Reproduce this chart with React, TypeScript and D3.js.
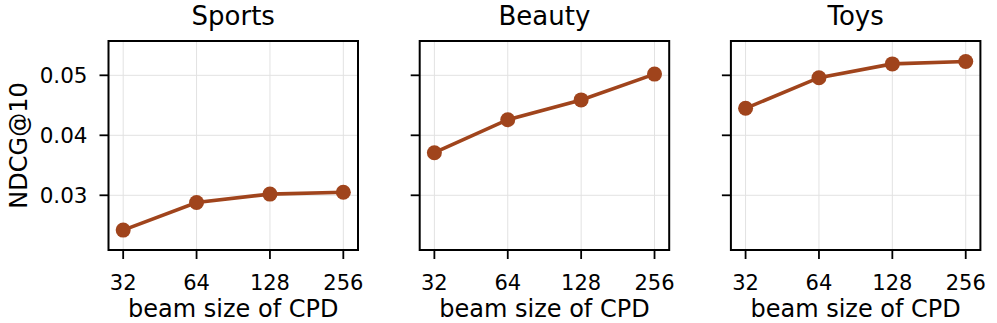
import * as d3 from 'd3';
import React, { useEffect, useRef } from 'react';

// beam sizes on the x axis (log2 spaced)
const beamSizes = [32, 64, 128, 256];
const datasets = ['Sports', 'Beauty', 'Toys'];
// NDCG@10 per dataset
const sportsNdcg = [0.0242, 0.0288, 0.0302, 0.0305];
const beautyNdcg = [0.0371, 0.0426, 0.0459, 0.0502];
const toysNdcg = [0.0445, 0.0496, 0.0519, 0.0523];
const yTicks = [0.03, 0.04, 0.05];

const W = 997;
const H = 323;

const App = () => {
    const ref = useRef<SVGSVGElement>(null);
    const color = '#A0441C';
    const font = 'DejaVu Sans, sans-serif';
    const plot = { top: 41, bottom: 250, left: 108.5, width: 249.5, step: 311.2 };

    useEffect(() => {
        const svg = d3.select(ref.current);
        svg.selectAll('*').remove();
        const series = [sportsNdcg, beautyNdcg, toysNdcg];

        const y = d3.scaleLinear().domain([0.02088, 0.05572]).range([plot.bottom, plot.top]);

        datasets.forEach((name, k) => {
            const x0 = plot.left + k * plot.step;
            const x = d3.scaleLog().base(2)
                .domain([32 / Math.pow(2, 0.2), 256 * Math.pow(2, 0.2)])
                .range([x0, x0 + plot.width]);
            const g = svg.append('g');

            // grid
            g.selectAll('line.gx').data(beamSizes).enter().append('line')
                .attr('x1', d => x(d)).attr('x2', d => x(d))
                .attr('y1', plot.top).attr('y2', plot.bottom)
                .attr('stroke', '#e2e2e2').attr('stroke-width', 1);
            g.selectAll('line.gy').data(yTicks).enter().append('line')
                .attr('x1', x0).attr('x2', x0 + plot.width)
                .attr('y1', d => y(d)).attr('y2', d => y(d))
                .attr('stroke', '#e2e2e2').attr('stroke-width', 1);

            // data line + markers
            const pts = beamSizes.map((b, i) => [b, series[k][i]] as [number, number]);
            const line = d3.line<[number, number]>().x(d => x(d[0])).y(d => y(d[1]));
            g.append('path').datum(pts)
                .attr('d', line)
                .attr('fill', 'none')
                .attr('stroke', color)
                .attr('stroke-width', 3.6);
            g.selectAll('circle').data(pts).enter().append('circle')
                .attr('cx', d => x(d[0])).attr('cy', d => y(d[1]))
                .attr('r', 7.5)
                .attr('fill', color);

            // frame
            g.append('rect')
                .attr('x', x0).attr('y', plot.top)
                .attr('width', plot.width).attr('height', plot.bottom - plot.top)
                .attr('fill', 'none').attr('stroke', '#000').attr('stroke-width', 2);

            // x ticks
            g.selectAll('line.tx').data(beamSizes).enter().append('line')
                .attr('x1', d => x(d)).attr('x2', d => x(d))
                .attr('y1', plot.bottom).attr('y2', plot.bottom + 9)
                .attr('stroke', '#000').attr('stroke-width', 1.8);
            g.selectAll('text.tx').data(beamSizes).enter().append('text')
                .attr('x', d => x(d)).attr('y', 289.5)
                .attr('text-anchor', 'middle')
                .attr('font-family', font).attr('font-size', 21)
                .text(d => d);

            // y ticks
            g.selectAll('line.ty').data(yTicks).enter().append('line')
                .attr('x1', x0 - 9).attr('x2', x0)
                .attr('y1', d => y(d)).attr('y2', d => y(d))
                .attr('stroke', '#000').attr('stroke-width', 1.8);
            if (k === 0) {
                g.selectAll('text.ty').data(yTicks).enter().append('text')
                    .attr('x', x0 - 21).attr('y', d => y(d))
                    .attr('dy', '0.36em')
                    .attr('text-anchor', 'end')
                    .attr('font-family', font).attr('font-size', 21.5)
                    .text(d => d3.format('.2f')(d));
                g.append('text')
                    .attr('transform', 'translate(27,' + (plot.top + plot.bottom) / 2 + ') rotate(-90)')
                    .attr('text-anchor', 'middle')
                    .attr('font-family', font).attr('font-size', 24)
                    .text('NDCG@10');
            }

            // titles / labels
            g.append('text')
                .attr('x', x0 + plot.width / 2).attr('y', 25)
                .attr('text-anchor', 'middle')
                .attr('font-family', font).attr('font-size', 26)
                .text(name);
            g.append('text')
                .attr('x', x0 + plot.width / 2).attr('y', 316.5)
                .attr('text-anchor', 'middle')
                .attr('font-family', font).attr('font-size', 24)
                .text('beam size of CPD');
        });
    }, []);

    return (
        <svg ref={ref} width={W} height={H}
            style={{ position: 'absolute', left: 0, top: 0, background: '#fff' }}>
        </svg>
    );
};

export default App;
